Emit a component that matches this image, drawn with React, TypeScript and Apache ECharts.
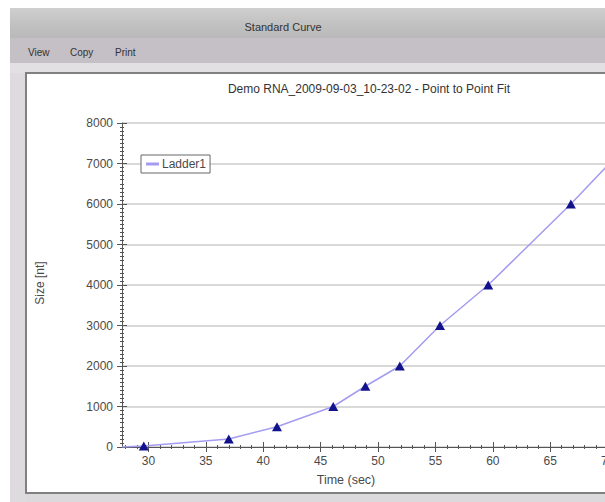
import React, { useEffect, useRef } from "react";
import * as echarts from "echarts";

const chartTitle = "Demo RNA_2009-09-03_10-23-02 - Point to Point Fit";
const windowTitle = "Standard Curve";
const menuItems = ["View", "Copy", "Print"];
const seriesName = "Ladder1";
const timesSec = [29.6, 37.0, 41.2, 46.1, 48.9, 51.9, 55.4, 59.6, 66.8, 73.5];
const sizesNt = [25, 200, 500, 1000, 1500, 2000, 3000, 4000, 6000, 8000];
const fitStart = [27.7, 0];
const xMajorTicks = [30, 35, 40, 45, 50, 55, 60, 65, 70, 75];
const xMinorTicks = [28, 29, 31, 32, 33, 34, 36, 37, 38, 39, 41, 42, 43, 44, 46, 47, 48, 49, 51, 52, 53, 54, 56, 57, 58, 59, 61, 62, 63, 64, 66, 67, 68, 69, 71, 72, 73, 74];
const yMin = 0;
const yMax = 8000;
const yStep = 1000;

const FONT = "Liberation Sans, Arial, sans-serif";
const AXIS_COLOR = "#555555";
const LABEL_COLOR = "#4a4a4a";

export default function App() {
  const ref = useRef<HTMLDivElement>(null);
  useEffect(() => {
    if (!ref.current) return;
    const chart = echarts.init(ref.current, undefined, { renderer: "svg" });
    const xCommon = {
      type: "value" as const,
      min: fitStart[0],
      max: 75,
      position: "bottom" as const,
      offset: 0,
      splitLine: { show: false },
      z: 5,
    };
    const data: any[] = [
      { value: fitStart, symbol: "none" },
      ...timesSec.map((t, i) => [t, sizesNt[i]]),
    ];
    chart.setOption({
      animation: false,
      backgroundColor: "#ffffff",
      textStyle: { fontFamily: FONT },
      grid: { left: 122, right: 35, top: 123, bottom: 55, containLabel: false },
      legend: {
        left: 141,
        top: 155,
        borderColor: "#666666",
        borderWidth: 1,
        padding: [3, 4, 3, 5],
        itemWidth: 13,
        itemHeight: 3,
        itemGap: 4,
        icon: "rect",
        backgroundColor: "#ffffff",
        textStyle: { fontSize: 12, color: LABEL_COLOR, fontFamily: FONT, padding: [0, 0, 0, -2] },
        data: [{ name: seriesName, itemStyle: { color: "#a49cf0" } }],
        z: 20,
      },
      xAxis: [
        {
          ...xCommon,
          axisLine: { show: true, lineStyle: { color: AXIS_COLOR, width: 1 } },
          axisTick: { show: true, length: 5, inside: false, customValues: xMajorTicks, lineStyle: { color: AXIS_COLOR } },
          axisLabel: { show: true, customValues: xMajorTicks.slice(0, 9), margin: 8, fontSize: 12, color: LABEL_COLOR, fontFamily: FONT },
        },
        {
          ...xCommon,
          axisLine: { show: false },
          axisTick: { show: true, length: 5, inside: true, customValues: xMajorTicks, lineStyle: { color: AXIS_COLOR } },
          axisLabel: { show: false },
        },
        {
          ...xCommon,
          axisLine: { show: false },
          axisTick: { show: true, length: 2, inside: false, customValues: xMinorTicks, lineStyle: { color: AXIS_COLOR } },
          axisLabel: { show: false },
        },
        {
          ...xCommon,
          axisLine: { show: false },
          axisTick: { show: true, length: 2, inside: true, customValues: xMinorTicks, lineStyle: { color: AXIS_COLOR } },
          axisLabel: { show: false },
        },
      ],
      yAxis: [
        {
          type: "value",
          min: yMin,
          max: yMax,
          interval: yStep,
          position: "left",
          z: 5,
          axisLine: { show: true, lineStyle: { color: AXIS_COLOR, width: 1 } },
          axisTick: { show: true, length: 5, inside: false, lineStyle: { color: AXIS_COLOR } },
          minorTick: { show: true, splitNumber: 10, length: 2, lineStyle: { color: AXIS_COLOR } },
          axisLabel: { margin: 9, fontSize: 12, color: LABEL_COLOR, fontFamily: FONT, formatter: (v: number) => String(v) },
          splitLine: { show: true, lineStyle: { color: "#d9d9d9", width: 2 } },
        },
        {
          type: "value",
          min: yMin,
          max: yMax,
          interval: yStep,
          position: "left",
          offset: 0,
          z: 5,
          axisLine: { show: false },
          axisTick: { show: true, length: 5, inside: true, lineStyle: { color: AXIS_COLOR } },
          minorTick: { show: true, splitNumber: 10, length: 2, lineStyle: { color: AXIS_COLOR } },
          axisLabel: { show: false },
          splitLine: { show: false },
        },
      ],
      series: [
        {
          name: seriesName,
          type: "line",
          xAxisIndex: 0,
          yAxisIndex: 0,
          data,
          z: 10,
          symbol: "triangle",
          symbolSize: [10, 9],
          lineStyle: { color: "#a49cf0", width: 1.5 },
          itemStyle: { color: "#12128c" },
          showSymbol: true,
        },
      ],
      graphic: [
        { type: "rect", z: 0, shape: { x: 10, y: 8, width: 700, height: 494 }, style: { fill: "#dcd9dc" } },
        { type: "rect", z: 0, shape: { x: 10, y: 8, width: 700, height: 30 }, style: { fill: new echarts.graphic.LinearGradient(0, 0, 0, 1, [{ offset: 0, color: "#cfcfcf" }, { offset: 0.5, color: "#c2c2c2" }, { offset: 1, color: "#b9b9b9" }]) } },
        { type: "rect", z: 0, shape: { x: 10, y: 38, width: 700, height: 25 }, style: { fill: "#c5c0c5" } },
        { type: "rect", z: 0, shape: { x: 10, y: 63, width: 700, height: 10 }, style: { fill: "#e3e0e3" } },
        { type: "rect", z: 0, shape: { x: 10, y: 73, width: 16, height: 429 }, style: { fill: "#dedbde" } },
        { type: "rect", z: 0, shape: { x: 26, y: 73, width: 700, height: 420 }, style: { fill: "#ffffff", stroke: "#808080", lineWidth: 2 } },
        { type: "text", z: 1, x: 283, y: 27, style: { text: windowTitle, fontSize: 11, fill: "#333333", fontFamily: FONT, align: "center", verticalAlign: "middle" } },
        { type: "text", z: 1, x: 28, y: 52, style: { text: menuItems[0], fontSize: 10, fill: "#333333", fontFamily: FONT, verticalAlign: "middle" } },
        { type: "text", z: 1, x: 70, y: 52, style: { text: menuItems[1], fontSize: 10, fill: "#333333", fontFamily: FONT, verticalAlign: "middle" } },
        { type: "text", z: 1, x: 115, y: 52, style: { text: menuItems[2], fontSize: 10, fill: "#333333", fontFamily: FONT, verticalAlign: "middle" } },
        { type: "text", z: 1, x: 369, y: 89, style: { text: chartTitle, fontSize: 12, fill: "#333333", fontFamily: FONT, align: "center", verticalAlign: "middle" } },
        { type: "text", z: 1, x: 346, y: 480, style: { text: "Time (sec)", fontSize: 12.5, fill: LABEL_COLOR, fontFamily: FONT, align: "center", verticalAlign: "middle" } },
        { type: "text", z: 1, x: 40, y: 283, rotation: Math.PI / 2, style: { text: "Size [nt]", fontSize: 12, fill: LABEL_COLOR, fontFamily: FONT, align: "center", verticalAlign: "middle" } },
      ],
    });
    return () => chart.dispose();
  }, []);
  return (
    <div style={{ position: "fixed", left: 0, top: 0, width: 605, height: 502, overflow: "hidden", background: "#ffffff" }}>
      <div ref={ref} style={{ position: "absolute", left: 0, top: 0, width: 700, height: 502 }} />
    </div>
  );
}
